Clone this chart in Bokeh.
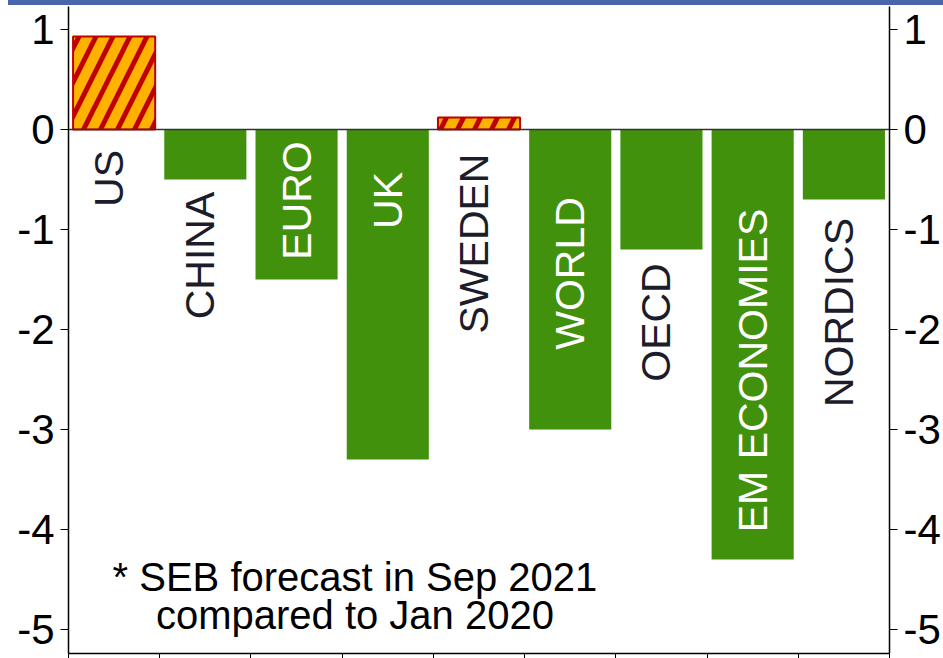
import numpy as np
from bokeh.plotting import figure
from bokeh.models import Range1d, LinearAxis, FixedTicker, Span, ColumnDataSource, Div
from bokeh.layouts import column
from bokeh.embed import file_html
from bokeh.resources import INLINE
from bokeh.core.properties import value

# ---- data ----
categories = ["US", "CHINA", "EURO", "UK", "SWEDEN", "WORLD", "OECD", "EM ECONOMIES", "NORDICS"]
values = [0.93, -0.5, -1.5, -3.3, 0.12, -3.0, -1.2, -4.3, -0.7]
y_ticks = [1, 0, -1, -2, -3, -4, -5]
y_tick_labels = ["1", "0", "-1", "-2", "-3", "-4", "-5"]
note_lines = ["* SEB forecast in Sep 2021", "compared to Jan 2020"]

# ---- label placement (positions, not data) ----
label_y = [-0.49, -1.26, -0.71, -0.71, -1.14, -1.44, -1.93, -2.41, -1.83]
label_inside = [False, False, True, True, False, True, False, True, False]

FONT = "Liberation Sans"
GREEN = "#41910C"
ORANGE = "#FFB300"
RED = "#C00000"

xs = [i + 0.5 for i in range(len(categories))]

pos = ColumnDataSource(dict(x=[x for x, v in zip(xs, values) if v >= 0],
                            top=[v for v in values if v >= 0]))
neg = ColumnDataSource(dict(x=[x for x, v in zip(xs, values) if v < 0],
                            top=[v for v in values if v < 0]))

p = figure(width=943, height=653, x_range=Range1d(0, len(categories)),
           y_range=Range1d(-5.24, 1.23), output_backend="svg", toolbar_location=None,
           min_border_left=68, min_border_right=53, min_border_top=1, min_border_bottom=5)
p.outline_line_color = None
p.xgrid.visible = False
p.ygrid.visible = False
p.background_fill_color = "white"
p.border_fill_color = "white"

# x axis: ticks at category boundaries (as minor ticks), no labels
xa = p.xaxis[0]
xa.ticker = FixedTicker(ticks=[], minor_ticks=list(range(len(categories) + 1)))
xa.major_label_standoff = 0
xa.major_tick_out = 0
xa.major_tick_in = 0
xa.minor_tick_out = 5
xa.minor_tick_in = 0
xa.minor_tick_line_color = "black"
xa.minor_tick_line_width = 1
xa.axis_line_color = "black"
xa.axis_line_width = 1.5

def style_y(ax):
    ax.ticker = FixedTicker(ticks=y_ticks)
    ax.major_label_overrides = {t: l for t, l in zip(y_ticks, y_tick_labels)}
    ax.major_label_text_font = FONT
    ax.major_label_text_font_size = "42px"
    ax.major_label_text_color = "black"
    ax.major_label_standoff = 6
    ax.major_tick_out = 8
    ax.major_tick_in = 0
    ax.minor_tick_out = 0
    ax.minor_tick_in = 0
    ax.axis_line_color = "black"
    ax.axis_line_width = 1.5

style_y(p.yaxis[0])
ra = LinearAxis()
style_y(ra)
p.add_layout(ra, "right")

# bars
p.vbar(x="x", top="top", bottom=0, width=0.9, source=neg, fill_color=GREEN, line_color=None)
p.vbar(x="x", top="top", bottom=0, width=0.9, source=pos, fill_color=ORANGE,
       line_color=RED, line_width=2, hatch_pattern="/", hatch_color=RED,
       hatch_scale=34, hatch_weight=5)

p.add_layout(Span(location=0, dimension="width", line_color="#333333", line_width=1.5))

# category labels
for inside, color, dx in [(True, "white", 0), (False, "#1C1C2A", -5)]:
    src = ColumnDataSource(dict(
        x=[x for x, f in zip(xs, label_inside) if f == inside],
        y=[y for y, f in zip(label_y, label_inside) if f == inside],
        t=[c for c, f in zip(categories, label_inside) if f == inside]))
    p.text(x="x", y="y", text="t", source=src, angle=np.pi / 2, x_offset=dx,
           text_align="center", text_baseline="middle", text_color=color,
           text_font=value(FONT), text_font_size="41px")

# footnote
p.text(x=[3.14, 3.14], y=[-4.47, -4.85], text=note_lines, text_align="center",
       text_baseline="alphabetic", text_color="black",
       text_font=value(FONT), text_font_size="40px")

band = Div(width=935, height=5, margin=(0, 0, 0, 8),
           styles={"background-color": "#4A66AC"})

layout = column(band, p, spacing=0)

open("out.html", "w").write(file_html(layout, INLINE))
